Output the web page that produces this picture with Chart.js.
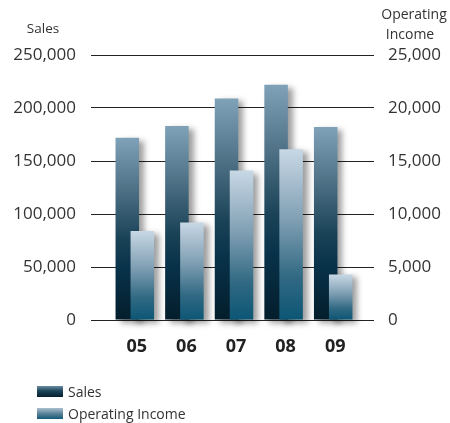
<!DOCTYPE html>
<html>
<head>
<meta charset="utf-8">
<script src="https://cdn.jsdelivr.net/npm/chart.js@4/dist/chart.umd.min.js"></script>
<style>
  html, body { margin: 0; padding: 0; background: #fff; }
  #wrap { position: relative; width: 450px; height: 423px; }
  #legend { position: absolute; left: 37px; top: 380px; font-family: 'Open Sans', sans-serif; font-size: 14px; color: #333; }
  .item { display: flex; align-items: center; height: 22px; }
  .sw { width: 26px; height: 11px; margin-right: 5px; }
  .sw.sales { background: linear-gradient(#6a8ea4, #1d4458 45%, #05202f); }
  .sw.oi { background: linear-gradient(#a9c0cf, #5d8399 50%, #125a77); }
</style>
</head>
<body>
<div id="wrap">
  <canvas id="chart" width="450" height="423"></canvas>
  <div id="legend">
    <div class="item"><span class="sw sales"></span>Sales</div>
    <div class="item"><span class="sw oi"></span>Operating Income</div>
  </div>
</div>
<script>
const years = ['05', '06', '07', '08', '09'];
const sales = [172000, 183000, 209000, 222000, 182000];
const operatingIncome = [8400, 9200, 14100, 16100, 4300];
const salesTicks = [0, 50000, 100000, 150000, 200000, 250000];
const incomeTicks = [0, 5000, 10000, 15000, 20000, 25000];

const FONT = "'Open Sans', sans-serif";

function fmt(v) {
  return Number(v).toLocaleString('en-US');
}

// per-bar vertical gradient, from bar top down to the baseline
function barGradient(stops) {
  return (ctx) => {
    const chart = ctx.chart;
    const area = chart.chartArea;
    if (!area || ctx.type !== 'data') return stops[stops.length - 1][1];
    const scale = chart.scales[ctx.dataset.yAxisID];
    const top = scale.getPixelForValue(ctx.raw);
    const g = chart.ctx.createLinearGradient(0, top, 0, area.bottom);
    stops.forEach(([p, c]) => g.addColorStop(p, c));
    return g;
  };
}

// draw sales first, income on top, both with a soft drop shadow
const barLook = {
  id: 'barLook',
  beforeDatasetsDraw(chart) {
    const ctx = chart.ctx;
    [0, 1].forEach((i) => {
      const meta = chart.getDatasetMeta(i);
      ctx.save();
      ctx.shadowColor = 'rgba(0,0,0,0.38)';
      ctx.shadowBlur = 6;
      ctx.shadowOffsetX = 5;
      ctx.shadowOffsetY = 3;
      meta.controller.draw();
      ctx.restore();
    });
    return false;
  }
};

const axisTitles = {
  id: 'axisTitles',
  afterDraw(chart) {
    const ctx = chart.ctx;
    ctx.save();
    ctx.fillStyle = '#333';
    ctx.textAlign = 'center';
    ctx.textBaseline = 'alphabetic';
    ctx.font = `13.5px ${FONT}`;
    ctx.fillText('Sales', 43, 33);
    ctx.font = `14px ${FONT}`;
    ctx.fillText('Operating', 414, 19);
    ctx.fillText('Income', 410, 38.5);
    ctx.restore();
  }
};

new Chart(document.getElementById('chart'), {
  type: 'bar',
  data: {
    labels: years,
    datasets: [
      {
        label: 'Sales',
        data: sales,
        yAxisID: 'y',
        backgroundColor: barGradient([
          [0, '#7fa2b8'],
          [0.3, '#4b6e83'],
          [0.55, '#1b4357'],
          [0.72, '#08324a'],
          [1, '#041d2b']
        ]),
        categoryPercentage: 0.605,
        barPercentage: 1.567
      },
      {
        label: 'Operating Income',
        data: operatingIncome,
        yAxisID: 'y2',
        backgroundColor: barGradient([
          [0, '#c8d8e5'],
          [0.4, '#82a1b5'],
          [0.75, '#316983'],
          [1, '#0b5675']
        ]),
        borderWidth: 0,
        categoryPercentage: 0.605,
        barPercentage: 1.567
      }
    ]
  },
  options: {
    responsive: false,
    animation: false,
    layout: { padding: { top: 55, left: 0, right: 0, bottom: 0 } },
    plugins: {
      legend: { display: false },
      tooltip: { enabled: false }
    },
    scales: {
      x: {
        grid: { display: false, drawTicks: false },
        border: { display: false },
        ticks: {
          color: '#222',
          padding: 16,
          labelOffset: 2,
          font: { family: FONT, size: 18, weight: 'bold' }
        },
        afterFit: (s) => { s.height = 103; }
      },
      y: {
        position: 'left',
        min: 0,
        max: 250000,
        afterBuildTicks: (s) => { s.ticks = salesTicks.map((v) => ({ value: v })); },
        grid: { color: '#222', lineWidth: 1, tickLength: 19, drawTicks: true },
        border: { display: false },
        ticks: {
          color: '#333',
          padding: 15,
          font: { family: FONT, size: 17 },
          callback: (v) => fmt(v)
        },
        afterFit: (s) => { s.width = 110; }
      },
      y2: {
        position: 'right',
        min: 0,
        max: 25000,
        afterBuildTicks: (s) => { s.ticks = incomeTicks.map((v) => ({ value: v })); },
        grid: { color: '#222', lineWidth: 1, tickLength: 16, drawTicks: true, drawOnChartArea: false },
        border: { display: false },
        ticks: {
          color: '#333',
          padding: 14,
          font: { family: FONT, size: 17 },
          callback: (v) => fmt(v)
        },
        afterFit: (s) => { s.width = 92; }
      }
    }
  },
  plugins: [barLook, axisTitles]
});
</script>
</body>
</html>
